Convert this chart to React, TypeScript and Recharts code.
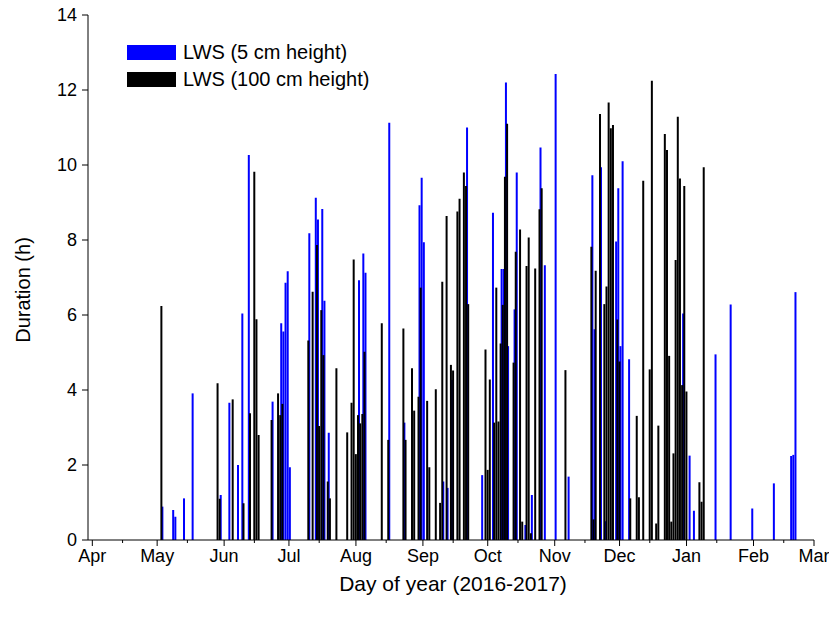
import { BarChart, Bar, XAxis, YAxis, Legend } from "recharts";

// days counted from 1 Apr 2016
const blueDays = [
  32, 37, 38, 42, 46, 59, 63, 67, 69, 72, 83, 87, 88, 89, 90, 91, 100, 103, 104, 106, 107, 109,
  123, 125, 126, 137, 144, 151, 152, 153, 162, 164, 166, 173, 180, 185, 189, 190, 191, 192, 195,
  196, 200, 203, 207, 209, 214, 220, 231, 232, 235, 237, 242, 243, 244, 245, 248, 273, 276, 278,
  288, 295, 305, 315, 323, 324, 325,
];
const blueHours = [
  0.89, 0.8, 0.62, 1.11, 3.91, 1.2, 3.66, 2.0, 6.04, 10.27, 3.69, 5.78, 5.56, 6.86, 7.17, 1.94,
  8.18, 9.13, 8.55, 8.83, 6.38, 2.86, 6.93, 7.64, 7.13, 11.13, 3.13, 8.93, 9.66, 7.94, 1.56, 1.39,
  4.27, 11.0, 1.73, 8.73, 7.23, 7.23, 12.2, 5.17, 6.15, 9.8, 0.4, 1.2, 10.47, 7.33, 12.43, 1.69,
  9.73, 5.62, 9.94, 0.5, 7.96, 9.38, 5.17, 10.1, 4.82, 6.04, 2.25, 0.78, 4.95, 6.28, 0.84, 1.51,
  2.24, 2.27, 6.61,
];

const blackDays = [
  32, 58, 59, 65, 70, 73, 75, 76, 77, 83, 86, 87, 88, 100, 102, 104, 105, 106, 107, 109, 110, 113,
  118, 120, 121, 122, 123, 124, 125, 126, 134, 137, 144, 145, 148, 149, 151, 152, 155, 156, 159,
  161, 162, 164, 166, 167, 169, 170, 172, 173, 174, 182, 183, 184, 186, 187, 188, 189, 190, 191,
  192, 195, 196, 198, 199, 201, 202, 203, 205, 207, 208, 219, 231, 232, 233, 235, 237, 238, 239,
  240, 241, 243, 244, 249, 252, 253, 255, 258, 259, 261, 262, 265, 266, 267, 268, 269, 270, 271,
  272, 273, 274, 275, 281, 282, 283,
];
const blackHours = [
  6.24, 4.18, 1.1, 3.75, 0.98, 3.38, 9.82, 5.89, 2.8, 3.2, 3.91, 3.33, 3.63, 5.32, 6.62, 7.87,
  3.04, 6.13, 4.93, 1.56, 1.11, 4.58, 2.87, 3.66, 7.48, 2.29, 3.33, 3.11, 3.36, 5.02, 5.78, 2.67,
  5.64, 2.67, 4.58, 3.45, 3.82, 6.73, 3.71, 1.94, 4.02, 0.99, 6.89, 8.64, 4.67, 4.52, 8.76, 9.1,
  9.8, 9.44, 6.29, 5.08, 1.87, 4.28, 3.13, 6.73, 3.16, 5.24, 6.27, 9.69, 11.1, 4.73, 7.69, 8.28,
  0.49, 7.31, 8.07, 0.18, 7.24, 8.82, 9.38, 4.53, 7.82, 0.55, 7.18, 11.36, 6.29, 6.76, 11.67,
  10.98, 11.07, 5.88, 4.76, 1.11, 3.31, 1.14, 9.58, 4.55, 12.25, 0.44, 3.05, 10.83, 10.4, 4.91,
  0.49, 2.31, 7.47, 11.29, 9.64, 4.13, 9.44, 3.96, 1.54, 1.02, 9.94,
];

const monthStarts = [0, 30, 61, 91, 122, 153, 183, 214, 244, 275, 306, 334];
const monthLabels = ["Apr", "May", "Jun", "Jul", "Aug", "Sep", "Oct", "Nov", "Dec", "Jan", "Feb", "Mar"];
const yTicks = [0, 2, 4, 6, 8, 10, 12, 14];

const FONT = "'Liberation Sans', Arial, sans-serif";

const allDays = Array.from(new Set([...blueDays, ...blackDays])).sort((a, b) => a - b);
const data = allDays.map((day) => {
  const i = blueDays.indexOf(day);
  const j = blackDays.indexOf(day);
  return {
    day,
    lws5: i >= 0 ? blueHours[i] : null,
    lws100: j >= 0 ? blackHours[j] : null,
  };
});

// mid-month minor ticks
const xTicks = [...monthStarts, ...monthStarts.slice(0, -1).map((d) => d + 14)].sort((a, b) => a - b);

function DayTick({ x, y, payload }: any) {
  const idx = monthStarts.indexOf(payload.value);
  const major = idx >= 0;
  return (
    <g>
      <line x1={x} x2={x} y1={y} y2={y + (major ? 6 : 3)} stroke="#000" strokeWidth={1} />
      {major && (
        <text x={x} y={y + 22} textAnchor="middle" fontSize={18} fontFamily={FONT} fill="#000">
          {monthLabels[idx]}
        </text>
      )}
    </g>
  );
}

function LegendBox() {
  const items = [
    { color: "#0000ff", label: "LWS (5 cm height)" },
    { color: "#000000", label: "LWS (100 cm height)" },
  ];
  return (
    <div style={{ fontFamily: FONT, fontSize: 20, color: "#000" }}>
      {items.map((it) => (
        <div key={it.label} style={{ display: "flex", alignItems: "center", height: 27 }}>
          <span style={{ display: "inline-block", width: 49, height: 15, background: it.color, marginRight: 7 }} />
          <span>{it.label}</span>
        </div>
      ))}
    </div>
  );
}

export default function App() {
  return (
    <div style={{ position: "absolute", left: 0, top: 0, width: 829, height: 625, background: "#fff" }}>
      <BarChart
        width={829}
        height={625}
        data={data}
        margin={{ top: 15, right: 15, left: 0, bottom: 25 }}
        barSize={2}
        barGap={-3}
      >
        <XAxis
          dataKey="day"
          type="number"
          domain={[-2, 334]}
          ticks={xTicks}
          interval={0}
          allowDataOverflow
          height={60}
          tickSize={0}
          tickMargin={0}
          tick={<DayTick />}
          axisLine={{ stroke: "#000", strokeWidth: 1 }}
          label={{
            content: () => (
              <text x={453} y={591} textAnchor="middle" fontSize={21} fontFamily={FONT} fill="#000">
                Day of year (2016-2017)
              </text>
            ),
          }}
        />
        <YAxis
          type="number"
          domain={[0, 14]}
          ticks={yTicks}
          interval={0}
          width={88}
          tickSize={6}
          tickMargin={5}
          tick={{ fill: "#000", fontSize: 18, fontFamily: FONT }}
          tickLine={{ stroke: "#000" }}
          axisLine={{ stroke: "#000", strokeWidth: 1 }}
          label={{
            content: () => (
              <text
                x={30}
                y={290}
                transform="rotate(-90, 30, 290)"
                textAnchor="middle"
                fontSize={20}
                fontFamily={FONT}
                fill="#000"
              >
                Duration (h)
              </text>
            ),
          }}
        />
        <Legend
          layout="vertical"
          align="center"
          verticalAlign="middle"
          wrapperStyle={{ left: 127, top: 39, width: 280 }}
          content={() => <LegendBox />}
        />
        <Bar dataKey="lws5" fill="#0000ff" isAnimationActive={false} />
        <Bar dataKey="lws100" fill="#000000" isAnimationActive={false} />
      </BarChart>
    </div>
  );
}
